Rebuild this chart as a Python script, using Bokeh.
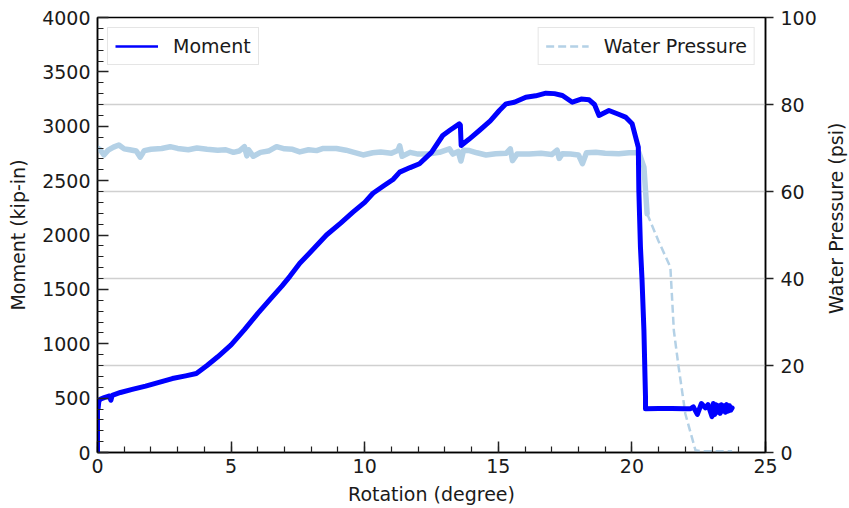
import math
from bokeh.plotting import figure
from bokeh.layouts import row
from bokeh.models import (Range1d, LinearAxis, SingleIntervalTicker, FixedTicker,
                          Grid, Legend, LegendItem, ColumnDataSource, Label)
from bokeh.embed import file_html
from bokeh.resources import INLINE

# Moment vs rotation (kip-in)
rot_m = [0.0, 0.0, 0.02, 0.05, 0.1, 0.25, 0.45, 0.5, 0.55, 0.86, 1.3, 1.8, 2.3, 2.8,
         3.3, 3.7, 4.1, 4.5, 5.0, 5.5, 6.0, 6.5, 6.9, 7.2, 7.57, 8.0, 8.57,
         9.1, 9.56, 10.0, 10.31, 10.7, 11.06, 11.31, 11.7, 12.05, 12.5, 12.92,
         13.2, 13.54, 13.58, 13.61, 13.9, 14.29, 14.7, 15.04, 15.29, 15.6, 16.03, 16.4,
         16.78, 17.1, 17.40, 17.77, 18.1, 18.40, 18.6, 18.77, 19.14, 19.5, 19.76, 20.01,
         20.14, 20.24, 20.26, 20.32, 20.38, 20.45, 20.49, 20.51, 20.51, 21.0, 21.5,
         22.0, 22.19, 22.3, 22.45, 22.6, 22.75, 22.85, 23.0, 23.05, 23.1, 23.15, 23.2,
         23.25, 23.3, 23.35, 23.4, 23.45, 23.5, 23.55, 23.6, 23.65, 23.7, 23.75]
moment = [0, 470, 400, 470, 490, 505, 520, 480, 525, 552, 580, 610, 645, 680,
          705, 726, 800, 880, 990, 1130, 1280, 1420, 1530, 1620, 1740, 1850, 2000,
          2110, 2210, 2300, 2384, 2450, 2510, 2578, 2620, 2655, 2760, 2915,
          2965, 3022, 3010, 2823, 2880, 2961, 3050, 3145, 3206, 3220, 3267, 3280,
          3304, 3300, 3283, 3221, 3250, 3243, 3200, 3099, 3145, 3110, 3084, 3022,
          2900, 2807, 2409, 1888, 1582, 1122, 700, 500, 402, 405, 405,
          403, 402, 420, 350, 450, 410, 440, 330, 450, 350, 440, 370,
          430, 360, 440, 380, 430, 370, 440, 380, 430, 390, 410]

# Water pressure (psi): steady plateau, then the drop after failure
rot_w = [0.0, 0.1, 0.24, 0.4, 0.6, 0.8, 1.0, 1.2, 1.45, 1.6, 1.75, 2.0, 2.4, 2.72,
         3.0, 3.4, 3.72, 4.1, 4.5, 4.8, 5.09, 5.3, 5.5, 5.59, 5.65, 5.83, 6.1, 6.4,
         6.7, 7.0, 7.3, 7.57, 7.9, 8.2, 8.45, 8.94, 9.3, 9.6, 9.94, 10.3, 10.6, 11.0,
         11.25, 11.31, 11.4, 11.7, 12.0, 12.43, 12.8, 13.17, 13.3, 13.5, 13.6, 13.7,
         13.92, 14.2, 14.54, 14.9, 15.3, 15.45, 15.53, 15.7, 16.16, 16.6, 17.0, 17.2,
         17.28, 17.4, 17.7, 18.0, 18.15, 18.3, 18.65, 19.0, 19.51, 19.9, 20.14, 20.26,
         20.45, 20.51, 20.57]
psi_w = [70.0, 69.6, 68.4, 69.5, 70.2, 70.7, 69.8, 69.6, 69.3, 67.9, 69.4, 69.7, 69.9, 70.3,
         69.9, 69.6, 70.0, 69.7, 69.5, 69.6, 69.0, 69.3, 70.3, 68.2, 69.6, 68.1, 69.0, 69.3,
         70.3, 69.8, 69.7, 69.1, 69.6, 69.4, 69.9, 69.9, 69.5, 69.0, 68.4, 68.9, 69.1, 68.8,
         69.5, 70.5, 68.1, 69.0, 68.6, 68.7, 69.0, 69.8, 68.6, 69.2, 67.0, 69.5,
         69.4, 68.9, 68.4, 68.7, 68.8, 69.8, 67.1, 68.6, 68.6, 68.8, 68.5, 69.5,
         67.6, 68.7, 68.6, 68.4, 66.4, 68.9, 69.0, 68.8, 68.7, 68.9, 68.9, 69.0,
         65.6, 60.2, 54.9]
rot_w_drop = [20.57, 20.99, 21.44, 21.57, 21.75, 22.0, 22.38, 22.6, 23.0, 23.4, 23.75]
psi_w_drop = [54.9, 48.7, 42.6, 28.0, 19.6, 8.9, 0.5, 0.3, 0.3, 0.3, 0.3]

FONT = "DejaVu Sans"
FS = "19px"
TXT = "#1a1a1a"
BLUE = "#0000ff"
LIGHT = "#b4d1e6"

W_TITLE = 30          # strip on the right that carries the psi axis title
H = 508

p = figure(width=849 - W_TITLE, height=H, x_range=Range1d(0, 25), y_range=Range1d(0, 4000),
           output_backend="svg", toolbar_location=None,
           min_border_left=97, min_border_right=82 - W_TITLE, min_border_top=17,
           min_border_bottom=56)
p.extra_y_ranges = {"psi": Range1d(0, 100)}
p.background_fill_color = "white"
p.border_fill_color = "white"
p.outline_line_color = "black"
p.outline_line_width = 1.5
p.xgrid.visible = False
p.ygrid.visible = False

# horizontal grid follows the right-hand (psi) axis
p.add_layout(Grid(dimension=1, ticker=FixedTicker(ticks=[20, 40, 60, 80]), y_range_name="psi",
                  grid_line_color="#d0d0d0", grid_line_width=1.5))

right = LinearAxis(y_range_name="psi",
                   ticker=SingleIntervalTicker(interval=20, num_minor_ticks=0))
p.add_layout(right, "right")

p.xaxis.ticker = SingleIntervalTicker(interval=5, num_minor_ticks=5)
p.yaxis[0].ticker = SingleIntervalTicker(interval=500, num_minor_ticks=5)
p.xaxis.axis_label = "Rotation (degree)"
p.yaxis[0].axis_label = "Moment (kip-in)"

for ax in [p.xaxis[0], p.yaxis[0], right]:
    ax.axis_line_color = "black"
    ax.axis_line_width = 1.5
    ax.major_tick_line_color = "#222222"
    ax.major_tick_line_width = 1.5
    ax.minor_tick_line_color = "#222222"
    ax.minor_tick_line_width = 1.2
    ax.major_label_text_font = FONT
    ax.major_label_text_font_size = FS
    ax.major_label_text_color = TXT
    ax.axis_label_text_font = FONT
    ax.axis_label_text_font_size = FS
    ax.axis_label_text_font_style = "normal"
    ax.axis_label_text_color = TXT

for ax in [p.xaxis[0], p.yaxis[0]]:
    ax.major_tick_in = 11
    ax.major_tick_out = 0
    ax.minor_tick_in = 6
    ax.minor_tick_out = 0

p.xaxis.major_label_standoff = 6
p.xaxis.axis_label_standoff = 7
p.yaxis[0].major_label_standoff = 7
p.yaxis[0].axis_label_standoff = 10
right.major_tick_in = 0
right.major_tick_out = 8
right.major_label_standoff = 7

src_w = ColumnDataSource(dict(x=rot_w, y=psi_w))
src_wd = ColumnDataSource(dict(x=rot_w_drop, y=psi_w_drop))
src_m = ColumnDataSource(dict(x=rot_m, y=moment))

p.line("x", "y", source=src_w, y_range_name="psi", line_color=LIGHT, line_width=5.5,
       line_join="round", line_cap="round")
p.line("x", "y", source=src_wd, y_range_name="psi", line_color=LIGHT, line_width=2.5,
       line_dash="8 4")
p.line("x", "y", source=src_m, line_color=BLUE, line_width=5,
       line_join="round", line_cap="round")

# legend swatches: thinner strokes, kept outside the visible ranges
leg_m = p.line(x=[-5, -4], y=[-1000, -1000], line_color=BLUE, line_width=2.5)
leg_w = p.line(x=[-5, -4], y=[-50, -50], y_range_name="psi", line_color=LIGHT,
               line_width=2.5, line_dash="8 4")

def make_legend(item, loc):
    return Legend(items=[item], location=loc, margin=10, padding=7, spacing=0,
                  glyph_width=43, glyph_height=20, label_height=21, label_standoff=15,
                  label_text_font=FONT, label_text_font_size=FS, label_text_color=TXT,
                  border_line_color="#cccccc", border_line_width=1,
                  background_fill_color="white", background_fill_alpha=0.85)

p.add_layout(make_legend(LegendItem(label="Moment", renderers=[leg_m]), "top_left"))
p.add_layout(make_legend(LegendItem(label="Water Pressure", renderers=[leg_w]), "top_right"))

# narrow strip holding the right-hand axis title, reading bottom to top
t = figure(width=W_TITLE, height=H, x_range=Range1d(0, W_TITLE), y_range=Range1d(0, H),
           output_backend="svg", toolbar_location=None, x_axis_type=None, y_axis_type=None,
           min_border_left=0, min_border_right=0, min_border_top=0, min_border_bottom=0)
t.outline_line_color = None
t.xgrid.visible = False
t.ygrid.visible = False
t.border_fill_color = "white"
t.add_layout(Label(x=16, y=H - 234.5, text="Water Pressure (psi)", angle=math.pi / 2,
                   text_align="center", text_baseline="middle",
                   text_font=FONT, text_font_size=FS, text_color=TXT))

layout = row(p, t, spacing=0)
open("out.html", "w").write(file_html(layout, INLINE))
